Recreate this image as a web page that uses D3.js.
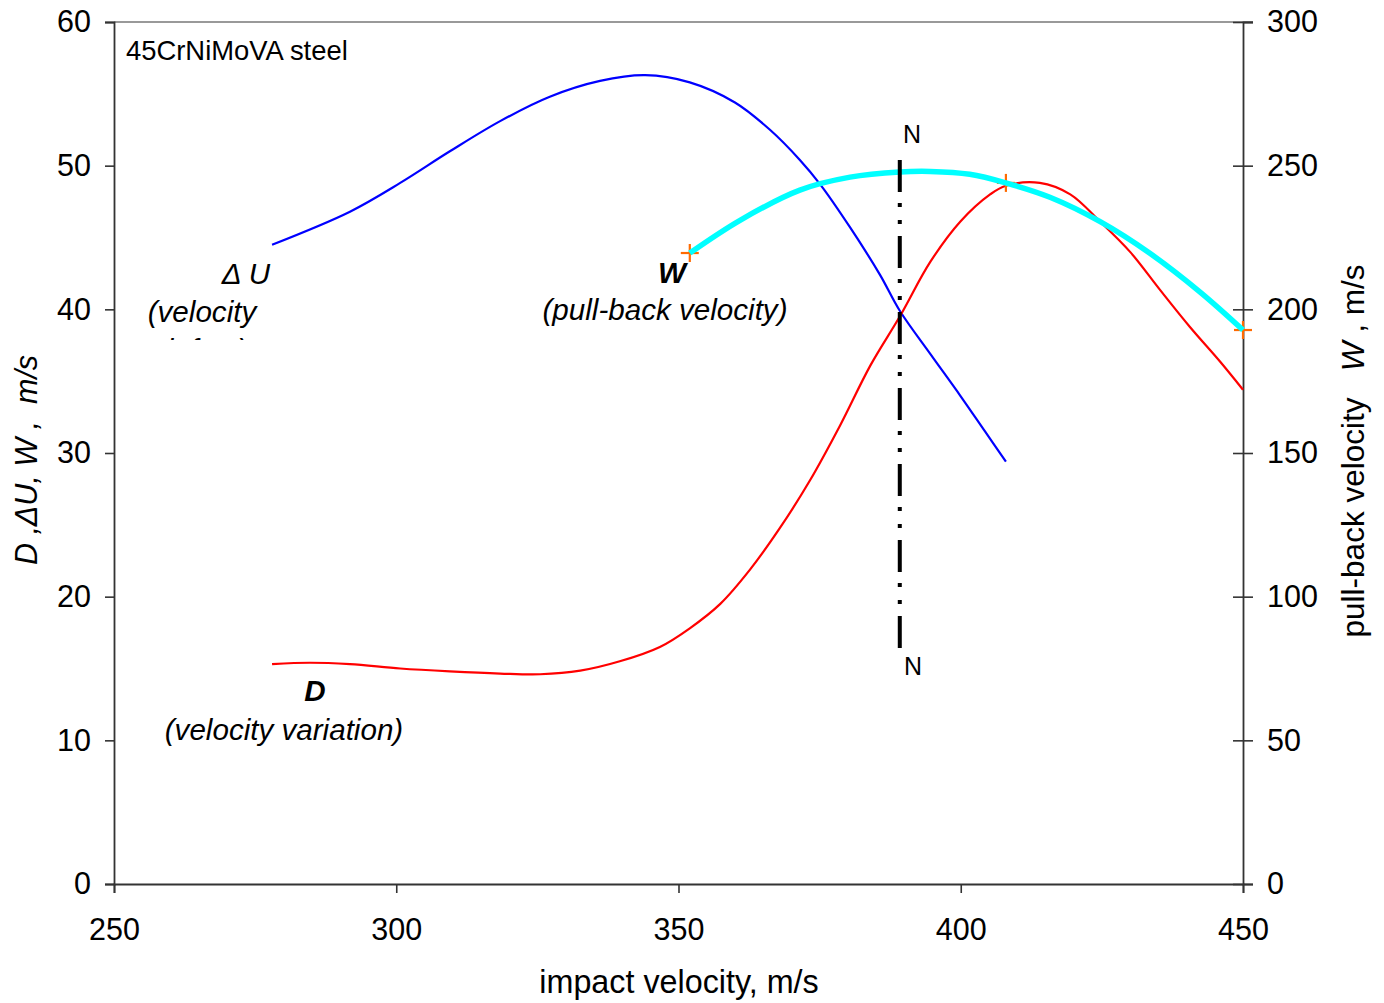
<!DOCTYPE html>
<html>
<head>
<meta charset="utf-8">
<script src="https://cdn.jsdelivr.net/npm/d3@7"></script>
<style>
  html, body { margin: 0; padding: 0; background: #fff; }
  svg { display: block; font-family: "Liberation Sans", Arial, sans-serif; }
</style>
</head>
<body>
<svg id="chart" width="1384" height="1003"></svg>
<script>
// Velocity defect ΔU versus impact velocity (left axis, m/s)
const duImpact = [278.0, 291.8, 300.7, 309.5, 318.4, 327.2, 336.1, 344.1, 352.0, 360.0, 366.2, 371.5, 375.1, 380.4, 385.7, 389.2, 394.6, 399.9, 404.3, 408.0];
const duValues = [44.5, 46.8, 48.8, 51.0, 53.1, 54.8, 55.9, 56.3, 55.8, 54.4, 52.5, 50.4, 48.7, 45.7, 42.4, 39.9, 36.9, 34.0, 31.5, 29.4];

// Velocity variation D versus impact velocity (left axis, m/s)
const dImpact = [278.0, 284.7, 291.8, 300.7, 309.5, 318.4, 325.5, 332.6, 339.6, 346.7, 352.0, 357.4, 362.7, 368.0, 373.3, 378.6, 384.0, 389.2, 394.6, 399.9, 405.2, 408.0, 414.0, 419.4, 424.7, 430.0, 435.3, 440.6, 446.0, 450.0];
const dValues = [15.3, 15.4, 15.3, 15.0, 14.8, 14.65, 14.6, 14.85, 15.5, 16.5, 17.8, 19.5, 21.9, 24.8, 28.1, 31.9, 36.1, 39.5, 43.3, 46.1, 48.0, 48.6, 48.8, 48.0, 46.1, 44.0, 41.35, 38.77, 36.33, 34.4];

// Pull-back velocity W versus impact velocity (right axis, m/s)
const wImpact = [352.0, 360.9, 371.5, 380.4, 389.2, 394.6, 401.6, 408.0, 415.8, 424.7, 433.5, 442.4, 450.0];
const wValues = [219.6, 231.0, 241.5, 246.0, 247.8, 248.0, 247.0, 244.0, 239.0, 230.5, 219.5, 206.0, 192.8];

// Measured pull-back points
const wMarkImpact = [352.0, 408.0, 450.0];
const wMarkValues = [219.6, 244.0, 192.8];

// Critical impact velocity N–N and its extent on the left axis
const nImpact = 389.2;
const nRange = [16.4, 50.4];

// Axis ticks
const xTicks = [250, 300, 350, 400, 450];
const yLeftTicks = [0, 10, 20, 30, 40, 50, 60];
const yRightTicks = [0, 50, 100, 150, 200, 250, 300];

const svg = d3.select("#chart");
const plotL = 114, plotR = 1243, plotT = 22, plotB = 884;

const x = d3.scaleLinear().domain([250, 450]).range([plotL, plotR]);
const yL = d3.scaleLinear().domain([0, 60]).range([plotB, plotT]);
const yR = d3.scaleLinear().domain([0, 300]).range([plotB, plotT]);

const axisColor = "#333";
const tickFont = 30.5;

// top border
svg.append("line").attr("x1", plotL).attr("x2", plotR + 10)
  .attr("y1", plotT).attr("y2", plotT)
  .attr("stroke", "#777").attr("stroke-width", 1.6);

// bottom axis
const gx = svg.append("g").attr("transform", `translate(0,${plotB})`)
  .call(d3.axisBottom(x).tickValues(xTicks).tickSize(9).tickPadding(20).tickFormat(d3.format("d")));
// left axis
const gyl = svg.append("g").attr("transform", `translate(${plotL},0)`)
  .call(d3.axisLeft(yL).tickValues(yLeftTicks).tickSize(9).tickPadding(14).tickFormat(d3.format("d")));
// right axis (ticks cross the axis line)
const gyr = svg.append("g").attr("transform", `translate(${plotR},0)`)
  .call(d3.axisRight(yR).tickValues(yRightTicks).tickSize(10).tickPadding(14).tickFormat(d3.format("d")));
gyr.selectAll(".tick line").attr("x1", -10);

[gx, gyl, gyr].forEach(g => {
  g.select(".domain").attr("stroke", axisColor).attr("stroke-width", 1.8);
  g.selectAll(".tick line").attr("stroke", axisColor).attr("stroke-width", 1.6);
  g.selectAll(".tick text").attr("fill", "#000").style("font-size", tickFont + "px")
    .style("font-family", "'Liberation Sans', Arial, sans-serif");
});
gx.selectAll(".tick text").attr("dy", "0.9em");

// curves
const lineL = d3.line().x(d => x(d[0])).y(d => yL(d[1])).curve(d3.curveCatmullRom.alpha(0.5));
const lineR = d3.line().x(d => x(d[0])).y(d => yR(d[1])).curve(d3.curveCatmullRom.alpha(0.5));

svg.append("path").datum(duImpact.map((v, i) => [v, duValues[i]]))
  .attr("d", lineL).attr("fill", "none").attr("stroke", "#0000ff").attr("stroke-width", 2.2);

svg.append("path").datum(dImpact.map((v, i) => [v, dValues[i]]))
  .attr("d", lineL).attr("fill", "none").attr("stroke", "#ff0000").attr("stroke-width", 2.2);

// measured point markers
const mk = svg.append("g");
wMarkImpact.forEach((v, i) => {
  const cx = x(v), cy = yR(wMarkValues[i]);
  mk.append("line").attr("x1", cx - 9).attr("x2", cx + 9).attr("y1", cy).attr("y2", cy)
    .attr("stroke", "#ff6a00").attr("stroke-width", 2.2);
  mk.append("line").attr("x1", cx).attr("x2", cx).attr("y1", cy - 9).attr("y2", cy + 9)
    .attr("stroke", "#ff6a00").attr("stroke-width", 2.2);
});

svg.append("path").datum(wImpact.map((v, i) => [v, wValues[i]]))
  .attr("d", lineR).attr("fill", "none").attr("stroke", "#00ffff").attr("stroke-width", 5.5)
  .attr("stroke-linecap", "butt");

// N–N dash-dot-dot line
svg.append("line")
  .attr("x1", x(nImpact)).attr("x2", x(nImpact))
  .attr("y1", yL(nRange[1])).attr("y2", yL(nRange[0]))
  .attr("stroke", "#000").attr("stroke-width", 4)
  .attr("stroke-dasharray", "32 11 4 13 4 12");

const txt = (tx, ty, s, opts = {}) => svg.append("text")
  .attr("x", tx).attr("y", ty).text(s)
  .style("font-size", (opts.size || 29.6) + "px")
  .style("font-style", opts.italic ? "italic" : "normal")
  .style("font-weight", opts.bold ? "bold" : "normal")
  .attr("text-anchor", opts.anchor || "start")
  .attr("fill", "#000");

txt(912, 143, "N", { size: 25, anchor: "middle" });
txt(913, 675, "N", { size: 25, anchor: "middle" });

txt(126, 60, "45CrNiMoVA steel", { size: 27.4 });

// curve labels
txt(246, 284, "Δ U", { italic: true, anchor: "middle" });
const clip = svg.append("clipPath").attr("id", "duclip");
clip.append("rect").attr("x", 100).attr("y", 290).attr("width", 260).attr("height", 50);
const duLab = svg.append("g").attr("clip-path", "url(#duclip)");
[["(velocity", 322], ["defect)", 360]].forEach(([s, ty]) => {
  duLab.append("text").attr("x", 202).attr("y", ty).text(s)
    .attr("text-anchor", "middle").style("font-size", "29.6px").style("font-style", "italic");
});

txt(672, 283, "W", { italic: true, bold: true, anchor: "middle" });
txt(665, 320, "(pull-back velocity)", { italic: true, anchor: "middle" });

txt(315, 701, "D", { italic: true, bold: true, anchor: "middle" });
txt(284, 740, "(velocity variation)", { italic: true, anchor: "middle" });

// axis titles
txt(679, 993, "impact velocity, m/s", { size: 32.3, anchor: "middle" });

const yt = svg.append("text")
  .attr("transform", "translate(37,460) rotate(-90)")
  .attr("text-anchor", "middle").style("font-size", "30.5px").style("font-style", "italic")
  .attr("xml:space", "preserve");
yt.text("D ,ΔU, W ,  m/s");

const rt = svg.append("text")
  .attr("transform", "translate(1364,451) rotate(-90)")
  .attr("text-anchor", "middle").style("font-size", "31.5px").attr("xml:space", "preserve");
rt.append("tspan").text("pull-back velocity   ");
rt.append("tspan").style("font-style", "italic").text("W");
rt.append("tspan").text(" , m/s");
</script>
</body>
</html>
